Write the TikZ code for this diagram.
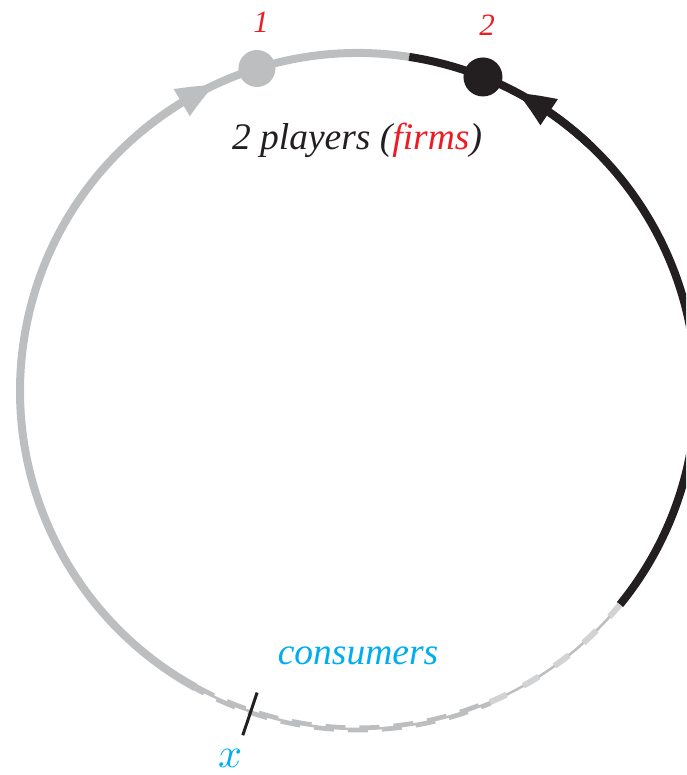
\documentclass[tikz,border=0pt]{standalone}
\usepackage{graphicx}
\usepackage{fontspec}
\setmainfont{Liberation Serif}
\usetikzlibrary{arrows.meta,bending}
\definecolor{cgray}{HTML}{BCBEC0}
\definecolor{clight}{HTML}{D1D3D4}
\definecolor{cblack}{HTML}{231F20}
\definecolor{cred}{HTML}{ED1C24}
\definecolor{ccyan}{HTML}{00AEEF}
\tikzset{
  ring/.style={line width=8pt},
  dashring/.style={line width=4pt, dash pattern=on 20pt off 14pt},
  bigtip/.style={-{Triangle[length=38pt,width=29pt,bend]}},
  player/.style={circle, inner sep=0pt, minimum size=#1},
  lbl/.style={anchor=base, inner sep=0pt, font=\fontsize{37.5}{42}\selectfont\itshape},
}
\begin{document}
\begin{tikzpicture}[x=1pt,y=1pt]
\useasboundingbox (0,0) rectangle (686,775);
\clip (0,0) rectangle (686,775);
\coordinate (C) at (358,384);
% gray market (player 1)
\draw[ring, cgray] ([shift={(81.3:338pt)}]C) arc[start angle=81.3, end angle=241.3, radius=338pt];
% black market (player 2)
\draw[ring, cblack] ([shift={(81.3:338pt)}]C) arc[start angle=81.3, end angle=-39.2, radius=338pt];
% contested / dashed part
\draw[line width=2.5pt, cgray] ([shift={(241.3:338pt)}]C) arc[start angle=241.3, end angle=320.8, radius=338pt];
\draw[dashring, cgray] ([shift={(241.3:336.5pt)}]C) arc[start angle=241.3, end angle=293, radius=336.5pt];
\draw[dashring, cgray, dash phase=10pt] ([shift={(241.3:339.5pt)}]C) arc[start angle=241.3, end angle=293, radius=339.5pt];
\draw[line width=6pt, clight, dash pattern=on 18pt off 19pt] ([shift={(293:338pt)}]C) arc[start angle=293, end angle=320.8, radius=338pt];
% arrows
\draw[ring, cgray, bigtip] ([shift={(130:338pt)}]C) arc[start angle=130, end angle=115, radius=338pt];
\draw[ring, cblack, bigtip] ([shift={(47:338pt)}]C) arc[start angle=47, end angle=62, radius=338pt];
% players
\node[player=37pt, fill=cgray] (p1) at ([shift={(107.4:338pt)}]C) {};
\node[player=39pt, fill=cblack] (p2) at ([shift={(68.3:338pt)}]C) {};
\node[lbl, text=cred, font=\fontsize{31}{34}\selectfont\itshape] (l1) at (261,742) {1};
\node[lbl, text=cred, font=\fontsize{31}{34}\selectfont\itshape] (l2) at (487,739) {2};
\node[lbl, text=cblack] (title) at (357,625) {2 players (\textcolor{cred}{firms})};
\node[lbl, text=ccyan] (cons) at (358,110) {consumers};
% consumer location
\coordinate (t1) at ([shift={(251.5:318pt)}]C);
\coordinate (t2) at ([shift={(251.5:363pt)}]C);
\draw[line width=3pt, cblack] (t1) -- (t2);
\node[anchor=base, inner sep=0pt, text=ccyan] (xl) at (230,8) {\scalebox{4.2}{$x$}};
\end{tikzpicture}
\end{document}
